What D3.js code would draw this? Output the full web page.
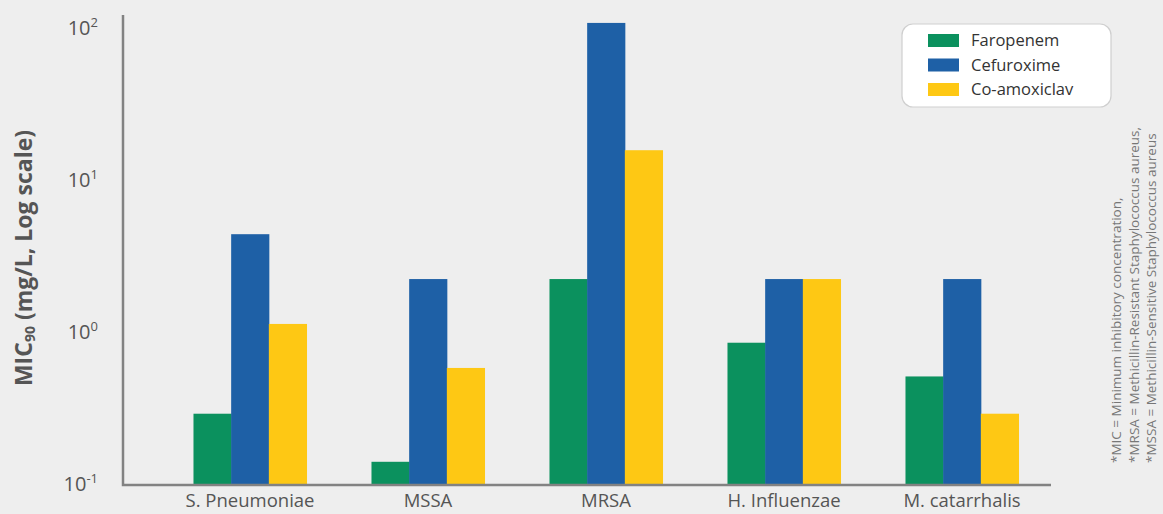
<!DOCTYPE html>
<html>
<head>
<meta charset="utf-8">
<script src="https://cdn.jsdelivr.net/npm/d3@7"></script>
<style>
  body { margin: 0; background: #eeeeee; }
  svg { display: block; font-family: "Open Sans", sans-serif; }
</style>
</head>
<body>
<script>
const width = 1163;
const height = 514;

// data
const organisms = ["S. Pneumoniae", "MSSA", "MRSA", "H. Influenzae", "M. catarrhalis"];
const drugs = ["Faropenem", "Cefuroxime", "Co-amoxiclav"];
const faropenem = [0.29, 0.14, 2.23, 0.85, 0.51];
const cefuroxime = [4.4, 2.23, 108, 2.23, 2.23];
const coAmoxiclav = [1.13, 0.58, 15.7, 2.23, 0.29];
const yTicks = [0.1, 1, 10, 100];
const notes = [
  "*MIC = Minimum inhibitory concentration,",
  "*MRSA = Methicillin-Resistant Staphylococcus aureus,",
  "*MSSA = Methicillin-Sensitive Staphylococcus aureus"
];

const colors = ["#0b915e", "#1e60a6", "#fec814"];
const seriesValues = [faropenem, cefuroxime, coAmoxiclav];

let data = organisms.map((org, i) => ({
  org: org,
  values: drugs.map((drug, j) => ({ drug: drug, value: seriesValues[j][i] }))
}));

let svg = d3
  .select("body")
  .append("svg")
  .attr("width", width)
  .attr("height", height);

svg.append("rect").attr("width", width).attr("height", height).attr("fill", "#eeeeee");

let axisLeftX = 123;
let baseY = 484;

let x0 = d3
  .scaleBand()
  .domain(organisms)
  .range([161, 1051])
  .paddingInner(0.365)
  .paddingOuter(0.1825);

let x1 = d3.scaleBand().domain(drugs).range([0, x0.bandwidth()]);

let y = d3.scaleLog().domain([0.1, 100]).range([baseY, 28]);

let color = d3.scaleOrdinal().domain(drugs).range(colors);

// bars
let groups = svg
  .selectAll("g.group")
  .data(data)
  .join("g")
  .attr("class", "group")
  .attr("transform", (d) => `translate(${x0(d.org)},0)`);

groups
  .selectAll("rect")
  .data((d) => d.values)
  .join("rect")
  .attr("x", (d) => x1(d.drug))
  .attr("y", (d) => y(d.value))
  .attr("width", x1.bandwidth() + 0.5)
  .attr("height", (d) => baseY - y(d.value))
  .attr("fill", (d) => color(d.drug));

// y axis
let leftAxis = d3.axisLeft(y).tickValues(yTicks).tickSize(0).tickPadding(25);
let yAxisG = svg
  .append("g")
  .attr("transform", `translate(${axisLeftX},0)`)
  .call(leftAxis);
yAxisG.select(".domain").remove();
yAxisG
  .selectAll(".tick text")
  .attr("fill", "#555")
  .attr("font-size", 20)
  .attr("font-family", "Open Sans")
  .text(null)
  .each(function (d) {
    let t = d3.select(this);
    t.append("tspan").text("10");
    t.append("tspan")
      .attr("font-size", 13)
      .attr("dy", -8)
      .text(Math.round(Math.log10(d)) < 0 ? "-1" : Math.round(Math.log10(d)));
  });

// x axis
let bottomAxis = d3.axisBottom(x0).tickSize(0).tickPadding(0);
let xAxisG = svg
  .append("g")
  .attr("transform", `translate(0,${baseY})`)
  .call(bottomAxis);
xAxisG.select(".domain").remove();
xAxisG
  .selectAll(".tick text")
  .attr("dy", null)
  .attr("y", 23)
  .attr("fill", "#555")
  .attr("font-size", 18.5)
  .attr("font-family", "Open Sans");

// axis lines
svg
  .append("path")
  .attr("d", `M${axisLeftX},15V${baseY + 1}H1051`)
  .attr("fill", "none")
  .attr("stroke", "#828282")
  .attr("stroke-width", 2.5);

// y title
let yTitle = svg
  .append("text")
  .attr("transform", "translate(32,258) rotate(-90)")
  .attr("text-anchor", "middle")
  .attr("font-weight", "bold")
  .attr("font-size", 23)
  .attr("fill", "#555");
yTitle.append("tspan").text("MIC");
yTitle.append("tspan").attr("font-size", 14).attr("dy", 3).text("90");
yTitle.append("tspan").attr("dy", -3).text(" (mg/L, Log scale)");

// legend
let legend = svg.append("g").attr("transform", "translate(902,24)");
legend
  .append("rect")
  .attr("width", 209)
  .attr("height", 83)
  .attr("rx", 11)
  .attr("fill", "#fff")
  .attr("stroke", "#cfcfcf")
  .attr("stroke-width", 1.2);

let legendItems = legend
  .selectAll("g.item")
  .data(drugs)
  .join("g")
  .attr("class", "item")
  .attr("transform", (d, i) => `translate(26,${10 + i * 24.5})`);

legendItems
  .append("rect")
  .attr("width", 31)
  .attr("height", 13)
  .attr("fill", (d) => color(d));

legendItems
  .append("text")
  .attr("x", 43)
  .attr("y", 6.5)
  .attr("dy", "0.35em")
  .attr("font-size", 16.5)
  .attr("fill", "#333")
  .text((d) => d);

// side notes
svg
  .selectAll("text.note")
  .data(notes)
  .join("text")
  .attr("class", "note")
  .attr("transform", (d, i) => `translate(${1121 + i * 17.5},463) rotate(-90)`)
  .attr("font-size", 13.5)
  .attr("fill", "#777")
  .text((d) => d);
</script>
</body>
</html>
